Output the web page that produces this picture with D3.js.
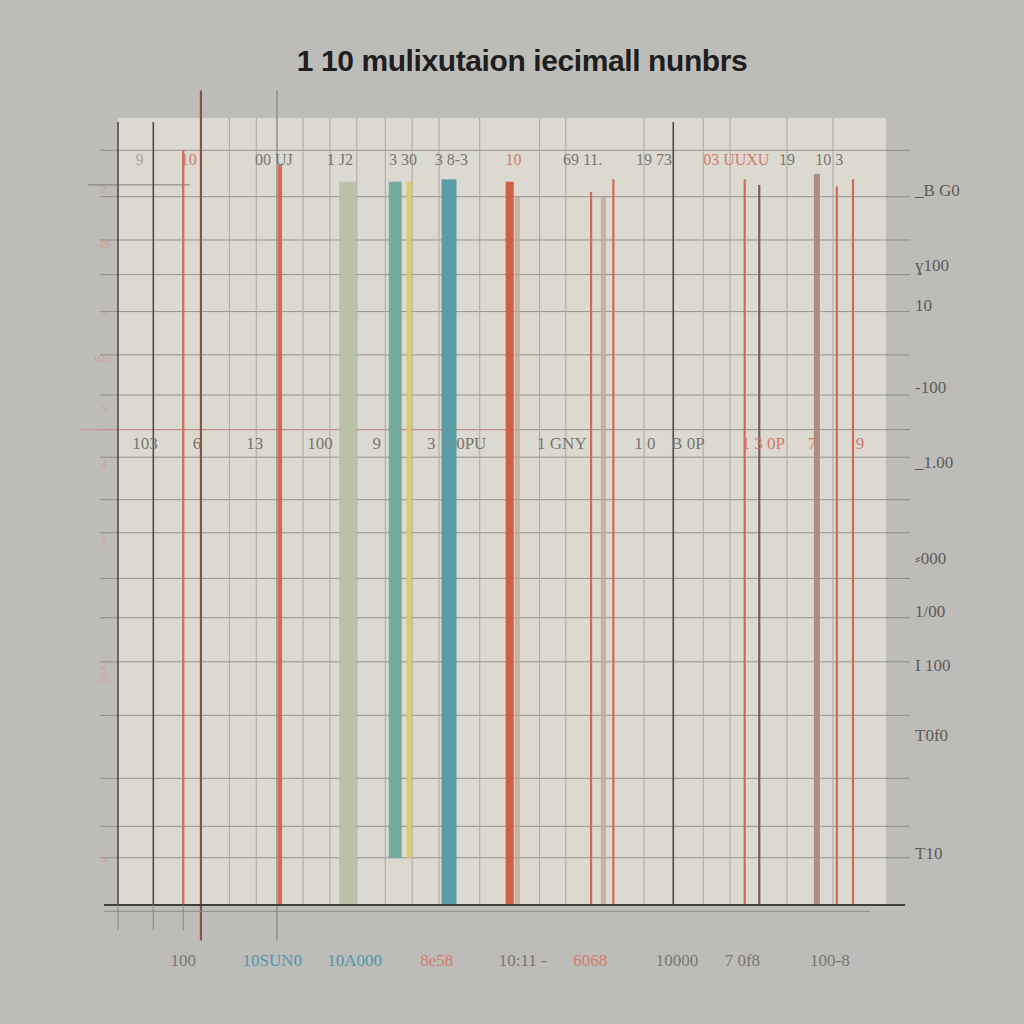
<!DOCTYPE html>
<html><head><meta charset="utf-8">
<script src="https://cdn.jsdelivr.net/npm/d3@7"></script>
<style>html,body{margin:0;padding:0;background:#bdbcb9;}svg{display:block;}</style>
</head><body><svg id="c" width="1024" height="1024"></svg>
<script>
// ---------- data ----------
const title = "1 10 mulixutaion iecimall nunbrs";
// bar positions (x units 0..100), bases and tops (y units 0..100)
const barPos  = [8.5, 10.8, 21.1, 29.9, 36.1, 37.9, 43.1, 51.0, 52.0, 61.6, 63.2, 64.5, 81.6, 83.5, 91.0, 93.6, 95.7];
const barBase = [0,   -4.5, 0,    0,    6.0,  6.0,  0,    0,    0,    0,    0,    0,    0,    0,    0,    0,    0];
const barTop  = [95.9, 103.5, 94.0, 91.9, 91.9, 91.9, 92.2, 91.9, 90.0, 90.6, 90.0, 92.2, 92.2, 91.5, 92.9, 91.3, 92.2];
const barKind = ["red","darkred","redbar","sage","teal","yellow","blue","orange","tan","red","tan","red","red","brownline","brown","red","red"];
// vertical grid lines (x units)
const vGridLight = [14.5, 18.0, 24.1, 27.6, 31.1, 34.8, 38.3, 41.8, 47.1, 54.9, 58.3, 68.5, 76.2, 79.7, 87.1, 93.1];
const vGridDark  = [0, 4.6, 72.3];
// horizontal grid lines (y units)
const hGrid = [95.9, 90.0, 84.5, 80.1, 75.4, 69.9, 64.8, 60.4, 56.9, 51.5, 47.3, 41.5, 36.5, 30.9, 24.1, 16.1, 10.0, 6.0];
// right axis labels
const rightVals   = [90.9, 81.3, 76.2, 65.8, 56.3, 44.1, 37.4, 30.5, 21.6, 6.6];
const rightLabels = ["_B G0", "ɣ100", "10", "-100", "_1.00", "⸗000", "1/00", "I 100", "T0f0", "T10"];
// bottom labels
const bottomPos    = [8.5, 20.1, 30.8, 41.5, 52.7, 61.5, 72.8, 81.3, 92.7];
const bottomLabels = ["100", "10SUN0", "10A000", "8e58", "10:11 -", "6068", "10000", "7 0f8", "100-8"];
const bottomKind   = ["gray","teal","teal","red","gray","red","gray","gray","gray"];
// top row labels (y ≈ 94.7)
const topRowPos    = [2.8, 9.2, 20.3, 28.9, 37.1, 43.4, 51.5, 60.5, 69.8, 80.5, 87.1, 92.6];
const topRowLabels = ["9", "10", "00 UJ", "1 J2", "3 30", "3 8-3", "10", "69 11.", "19 73", "03 UUXU", "19", "10 3"];
const topRowKind   = ["faint","red","gray","gray","gray","gray","red","gray","gray","red","gray","gray"];
// middle row labels (y ≈ 58.8)
const midRowPos    = [3.5, 10.3, 17.8, 26.3, 33.7, 40.8, 46.0, 57.8, 68.6, 74.2, 84.0, 90.4, 96.6];
const midRowLabels = ["103", "6", "13", "100", "9", "3", "0PU", "1 GNY", "1 0", "B 0P", "1 3 0P", "7", "9"];
const midRowKind   = ["gray","gray","gray","gray","gray","gray","gray","gray","gray","gray","red","red","red"];
// faint left scribbles (y units)
const leftVals   = [91.0, 84.0, 75.4, 69.5, 63.3, 56.0, 46.2, 30.5, 29.0, 6.0];
const leftLabels = ["2", "49", "5", "02%", "5", "4", "1", "2", "35", "5"];

// ---------- styles ----------
const kindStyle = {
  red:      {c:"#d2634f", w:2.2, o:0.95},
  redbar:   {c:"#d2634f", w:4,   o:0.95},
  darkred:  {c:"#8a4a3e", w:2.2, o:0.95},
  sage:     {c:"#b7c2a6", w:17,  o:0.95},
  teal:     {c:"#6eaa9c", w:13,  o:0.95},
  yellow:   {c:"#dccb67", w:5,   o:0.95},
  blue:     {c:"#5c9ca6", w:15,  o:1},
  orange:   {c:"#d0603f", w:8,   o:1},
  tan:      {c:"#c3a696", w:5,   o:0.8},
  brownline:{c:"#6b5148", w:2.2, o:0.9},
  brown:    {c:"#a88a7c", w:6,   o:0.95}
};
const textColor = {gray:"#777570", red:"#d47a6c", teal:"#4f97a8", faint:"#a9a8a4"};

// ---------- chart ----------
const svg = d3.select("#c");
const x = d3.scaleLinear().domain([0, 100]).range([118, 886]);
const y = d3.scaleLinear().domain([0, 100]).range([905, 118]);

svg.append("rect").attr("width",1024).attr("height",1024).attr("fill","#bdbcb9");
svg.append("rect").attr("x",x(0)).attr("y",y(100)).attr("width",x(100)-x(0)).attr("height",y(0)-y(100)).attr("fill","#dcd9d0");

svg.append("text").attr("x",522).attr("y",71).attr("text-anchor","middle")
  .attr("font-family","Liberation Sans, Arial, sans-serif").attr("font-size",30).attr("font-weight","bold")
  .attr("fill","#1e1e1e").attr("letter-spacing","-0.4").text(title);

// horizontal grid
svg.append("g").selectAll("line").data(hGrid).join("line")
  .attr("x1",100).attr("x2",910).attr("y1",d=>y(d)).attr("y2",d=>y(d))
  .attr("stroke","#7d7c79").attr("stroke-width",1).attr("opacity",0.75);
svg.append("line").attr("x1",80).attr("x2",520).attr("y1",y(60.4)).attr("y2",y(60.4)).attr("stroke","#c98f84").attr("stroke-width",1);
svg.append("line").attr("x1",88).attr("x2",190).attr("y1",y(91.5)).attr("y2",y(91.5)).attr("stroke","#7d7c79").attr("stroke-width",1);

// vertical grid
svg.append("g").selectAll("line").data(vGridLight).join("line")
  .attr("x1",d=>x(d)).attr("x2",d=>x(d)).attr("y1",y(100)).attr("y2",y(0))
  .attr("stroke","#a9a7a1").attr("stroke-width",1);
svg.append("g").selectAll("line").data(vGridDark).join("line")
  .attr("x1",d=>x(d)).attr("x2",d=>x(d)).attr("y1",y(99.5)).attr("y2",y(0))
  .attr("stroke","#4d4c4a").attr("stroke-width",1.6);
svg.append("line").attr("x1",x(20.7)).attr("x2",x(20.7)).attr("y1",y(103.5)).attr("y2",y(-4.5))
  .attr("stroke","#8d8a85").attr("stroke-width",1.4);

// bars
const bars = barPos.map((p,i)=>({p, b:barBase[i], t:barTop[i], s:kindStyle[barKind[i]]}));
svg.append("g").selectAll("rect").data(bars).join("rect")
  .attr("x",d=>x(d.p)-d.s.w/2).attr("width",d=>d.s.w)
  .attr("y",d=>y(d.t)).attr("height",d=>y(d.b)-y(d.t))
  .attr("fill",d=>d.s.c).attr("opacity",d=>d.s.o);

// bottom axis line
svg.append("line").attr("x1",104).attr("x2",905).attr("y1",y(0)).attr("y2",y(0)).attr("stroke","#3f3f3d").attr("stroke-width",2);
svg.append("line").attr("x1",104).attr("x2",870).attr("y1",y(-0.8)).attr("y2",y(-0.8)).attr("stroke","#8a8985").attr("stroke-width",1);
svg.append("g").selectAll("line").data([0,4.6,8.5]).join("line")
  .attr("x1",d=>x(d)).attr("x2",d=>x(d)).attr("y1",y(0)).attr("y2",y(-3.2))
  .attr("stroke","#8a8985").attr("stroke-width",1);

// right axis labels
const rAxis = d3.axisRight(y).tickValues(rightVals).tickFormat((d,i)=>rightLabels[i]).tickSize(0).tickPadding(0);
const rg = svg.append("g").attr("transform",`translate(${x(100)+29},0)`).call(rAxis);
rg.select(".domain").remove();
rg.selectAll("text").attr("font-family","Liberation Serif, DejaVu Serif, serif").attr("font-size",17).attr("fill","#5c5b58");

// bottom labels
svg.append("g").selectAll("text").data(bottomLabels).join("text")
  .attr("x",(d,i)=>x(bottomPos[i])).attr("y",966).attr("text-anchor","middle")
  .attr("font-family","Liberation Serif, DejaVu Serif, serif").attr("font-size",17)
  .attr("fill",(d,i)=>textColor[bottomKind[i]]).text(d=>d);

// top row labels
svg.append("g").selectAll("text").data(topRowLabels).join("text")
  .attr("x",(d,i)=>x(topRowPos[i])).attr("y",y(94.0)).attr("text-anchor","middle")
  .attr("font-family","Liberation Serif, DejaVu Serif, serif").attr("font-size",16)
  .attr("fill",(d,i)=>textColor[topRowKind[i]]).text(d=>d);

// middle row labels
svg.append("g").selectAll("text").data(midRowLabels).join("text")
  .attr("x",(d,i)=>x(midRowPos[i])).attr("y",y(57.9)).attr("text-anchor","middle")
  .attr("font-family","Liberation Serif, DejaVu Serif, serif").attr("font-size",17)
  .attr("fill",(d,i)=>textColor[midRowKind[i]]).text(d=>d);

// left faint scribbles
svg.append("g").selectAll("text").data(leftLabels).join("text")
  .attr("x",104).attr("y",(d,i)=>y(leftVals[i])+4).attr("text-anchor","middle")
  .attr("font-family","Liberation Serif, serif").attr("font-size",10)
  .attr("fill","#d59a8e").text(d=>d);
</script></body></html>
